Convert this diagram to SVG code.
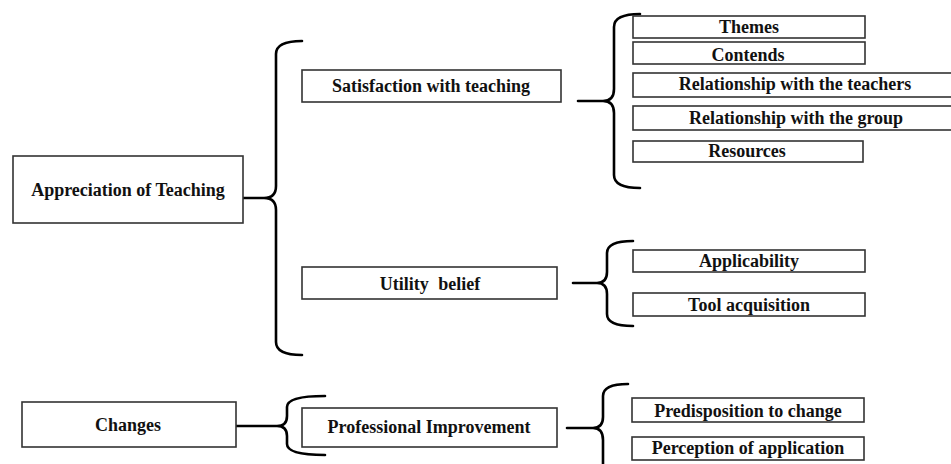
<svg xmlns="http://www.w3.org/2000/svg" width="951" height="464" viewBox="0 0 951 464">
<style>
.box{fill:#fff;stroke:#333;stroke-width:1.6}
.t{font-family:"Liberation Serif","Times New Roman",serif;font-weight:bold;font-size:18px;fill:#111;text-anchor:middle}
.br{fill:none;stroke:#000;stroke-width:2.6;stroke-linecap:round;stroke-linejoin:round}
</style>
<rect width="951" height="464" fill="#fff"/>
<g id="connectors">
<path class="br" d="M243,198 L264,198 Q276,198 276,186 L276,54 Q276,41 302,41 M264,198 Q276,198 276,210 L276,342 Q276,355 302,355"/>
<path class="br" d="M578,101 L603,101 Q614,101 614,89 L614,27 Q614,14 640,14 M603,101 Q614,101 614,113 L614,175 Q614,188 640,188"/>
<path class="br" d="M573,283 L597,283 Q607,283 607,272 L607,253 Q607,241 633,241 M597,283 Q607,283 607,294 L607,314 Q607,326 633,326"/>
<path class="br" d="M236,426 L277,426 Q287,426 287,416 L287,407 Q287,396 325,396 M277,426 Q287,426 287,436 L287,444 Q287,455 325,455"/>
<path class="br" d="M567,428 L593,428 Q603,428 603,417 L603,396 Q603,384 628,384 M593,428 Q603,428 603,440 L603,470"/>
</g>
<g id="appreciation"><rect class="box" x="13" y="156" width="230" height="67"/><text class="t" x="128" y="196">Appreciation of Teaching</text></g>
<g id="satisfaction"><rect class="box" x="302" y="70" width="259" height="32"/><text class="t" x="431" y="92">Satisfaction with teaching</text></g>
<g id="themes"><rect class="box" x="633" y="16" width="232" height="22"/><text class="t" x="749" y="33">Themes</text></g>
<g id="contends"><rect class="box" x="633" y="42" width="232" height="22"/><text class="t" x="748" y="61">Contends</text></g>
<g id="rel-teachers"><rect class="box" x="633" y="73" width="322" height="24"/><text class="t" x="795" y="90">Relationship with the teachers</text></g>
<g id="rel-group"><rect class="box" x="633" y="106" width="322" height="24"/><text class="t" x="796" y="124">Relationship with the group</text></g>
<g id="resources"><rect class="box" x="633" y="141" width="230" height="21"/><text class="t" x="747" y="157">Resources</text></g>
<g id="utility"><rect class="box" x="302" y="267" width="255" height="32"/><text class="t" x="430" y="290" word-spacing="5">Utility belief</text></g>
<g id="applicability"><rect class="box" x="633" y="250" width="232" height="22"/><text class="t" x="749" y="267">Applicability</text></g>
<g id="tool"><rect class="box" x="633" y="293" width="232" height="23"/><text class="t" x="749" y="311">Tool acquisition</text></g>
<g id="changes"><rect class="box" x="22" y="402" width="214" height="45"/><text class="t" x="128" y="431">Changes</text></g>
<g id="professional"><rect class="box" x="302" y="408" width="255" height="39"/><text class="t" x="429" y="433">Professional Improvement</text></g>
<g id="predisposition"><rect class="box" x="632" y="398" width="232" height="24"/><text class="t" x="748" y="417">Predisposition to change</text></g>
<g id="perception"><rect class="box" x="632" y="437" width="232" height="23"/><text class="t" x="748" y="454">Perception of application</text></g>
</svg>
